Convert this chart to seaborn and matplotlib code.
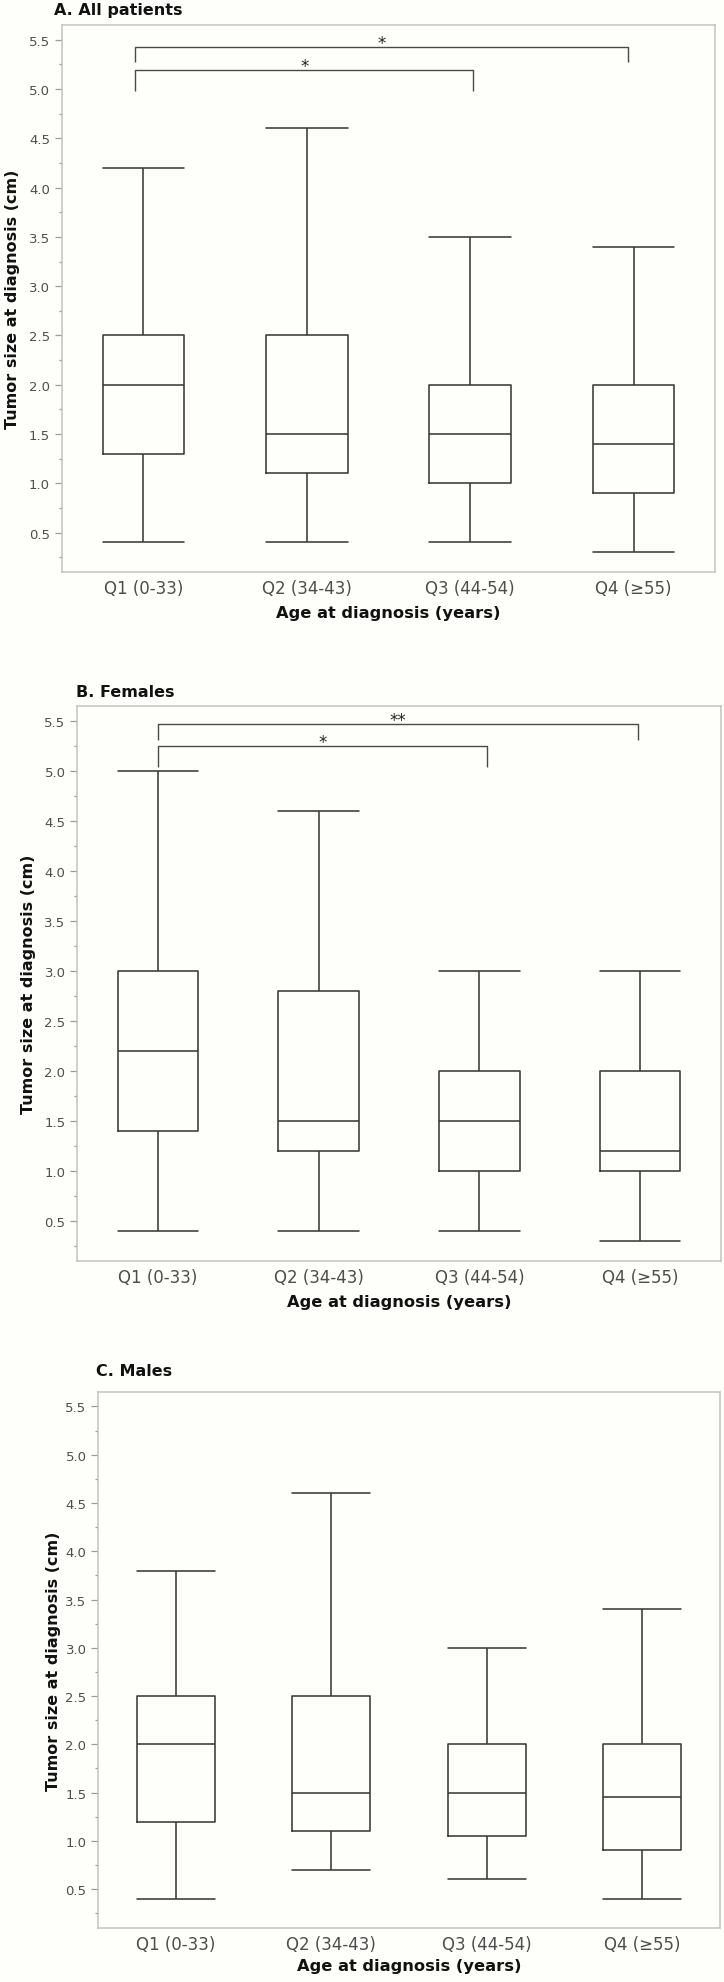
import numpy as np
import pandas as pd
import matplotlib
matplotlib.use("Agg")
import matplotlib.pyplot as plt
import seaborn as sns
from matplotlib.ticker import MultipleLocator, FormatStrFormatter

# ---------------- data ----------------
categories = ["Q1 (0-33)", "Q2 (34-43)", "Q3 (44-54)", "Q4 (≥55)"]

# A. All patients
all_low = [0.4, 0.4, 0.4, 0.3]
all_q1 = [1.3, 1.1, 1.0, 0.9]
all_med = [2.0, 1.5, 1.5, 1.4]
all_q3 = [2.5, 2.5, 2.0, 2.0]
all_high = [4.2, 4.6, 3.5, 3.4]

# B. Females
fem_low = [0.4, 0.4, 0.4, 0.3]
fem_q1 = [1.4, 1.2, 1.0, 1.0]
fem_med = [2.2, 1.5, 1.5, 1.2]
fem_q3 = [3.0, 2.8, 2.0, 2.0]
fem_high = [5.0, 4.6, 3.0, 3.0]

# C. Males
male_low = [0.4, 0.7, 0.6, 0.4]
male_q1 = [1.2, 1.1, 1.05, 0.9]
male_med = [2.0, 1.5, 1.5, 1.45]
male_q3 = [2.5, 2.5, 2.0, 2.0]
male_high = [3.8, 4.6, 3.0, 3.4]

# significance brackets: (group a, group b, bar height, leg bottom, label)
all_brackets = [(0, 3, 5.43, 5.27, "*"), (0, 2, 5.195, 4.98, "*")]
fem_brackets = [(0, 3, 5.47, 5.31, "**"), (0, 2, 5.25, 5.04, "*")]
male_brackets = []

y_major = [0.5, 1.0, 1.5, 2.0, 2.5, 3.0, 3.5, 4.0, 4.5, 5.0, 5.5]

titles = ["A. All patients", "B. Females", "C. Males"]
ylabel = "Tumor size at diagnosis (cm)"
xlabel = "Age at diagnosis (years)"

# ---------------- styling ----------------
sns.set_style("white")
plt.rcParams["font.family"] = ["DejaVu Sans"]

W, H = 724, 1983
BG = "#fefefa"
LINE = "#3a3a3a"
SPINE = "#c2c2c2"
TICKC = "#9a9a9a"
LABC = "#4d4d4d"

fig = plt.figure(figsize=(W / 100, H / 100), dpi=100, facecolor=BG)


def long_frame(low, q1, med, q3, high):
    rows = []
    for i, c in enumerate(categories):
        for v in (low[i], q1[i], med[i], q3[i], high[i]):
            rows.append({"group": c, "value": v})
    return pd.DataFrame(rows)


panels = [
    dict(stats=(all_low, all_q1, all_med, all_q3, all_high), br=all_brackets,
         box=(61.7, 26.0, 715.3, 573.0), title_xy=(54, 11), ylab_r=19.5,
         xlab_top=606, nudge={0: -0.05, 2: 0.02, 3: -0.035}),
    dict(stats=(fem_low, fem_q1, fem_med, fem_q3, fem_high), br=fem_brackets,
         box=(77.3, 707.3, 720.7, 1262.0), title_xy=(76, 692.5), ylab_r=36,
         xlab_top=1295, nudge={0: 0.0, 2: 0.05, 3: -0.015}),
    dict(stats=(male_low, male_q1, male_med, male_q3, male_high), br=male_brackets,
         box=(98.3, 1393.0, 719.7, 1928.7), title_xy=(96, 1371.7), ylab_r=61,
         xlab_top=1958.7, nudge={}),
]

for p, title in zip(panels, titles):
    l, t, r, b = p["box"]
    ax = fig.add_axes([l / W, 1 - b / H, (r - l) / W, (b - t) / H])
    ax.set_facecolor(BG)
    df = long_frame(*p["stats"])
    sns.boxplot(data=df, x="group", y="value", order=categories,
                whis=(0, 100), width=0.5, fill=False, color=LINE,
                linewidth=1.15, showfliers=False, capwidths=0.5, ax=ax)
    ax.set_xlim(-0.5, 3.5)
    ax.set_ylim(0.1, 5.65)
    ax.set_yticks(y_major)
    ax.yaxis.set_major_formatter(FormatStrFormatter("%.1f"))
    ax.yaxis.set_minor_locator(MultipleLocator(0.25))
    ax.tick_params(axis="y", which="major", left=True, length=5, width=0.9,
                   color=TICKC, labelsize=9.5, labelcolor=LABC, pad=3.5)
    ax.tick_params(axis="y", which="minor", left=True, length=2.5, width=0.9,
                   color=TICKC)
    ax.tick_params(axis="x", length=0, labelsize=12, labelcolor=LABC, pad=5)
    for s in ax.spines.values():
        s.set_color(SPINE)
        s.set_linewidth(1.1)
        s.set_visible(True)

    ax.set_ylabel(ylabel, fontsize=11.5, fontweight="bold", color="#111111")
    ax.yaxis.set_label_coords((p["ylab_r"] - l) / (r - l), 0.5)
    ax.set_xlabel(xlabel, fontsize=11.7, fontweight="bold", color="#111111")
    ax.xaxis.set_label_coords(0.5, (b - p["xlab_top"]) / (b - t))

    nud = p["nudge"]
    for (ga, gb, hy, ly, lab) in p["br"]:
        xa = ga + nud.get(ga, 0)
        xb = gb + nud.get(gb, 0)
        ax.plot([xa, xa, xb, xb], [ly, hy, hy, ly], color="#4a4a4a",
                lw=1.0, solid_capstyle="butt", clip_on=False)
        ax.text((xa + xb) / 2, hy - 0.01, lab, ha="center", va="baseline",
                fontsize=12, color="#222222")

    tx, ty = p["title_xy"]
    fig.text(tx / W, 1 - ty / H, title, ha="left", va="center",
             fontsize=11.5, fontweight="bold", color="#111111")

fig.savefig("out.png", dpi=100, facecolor=BG)
